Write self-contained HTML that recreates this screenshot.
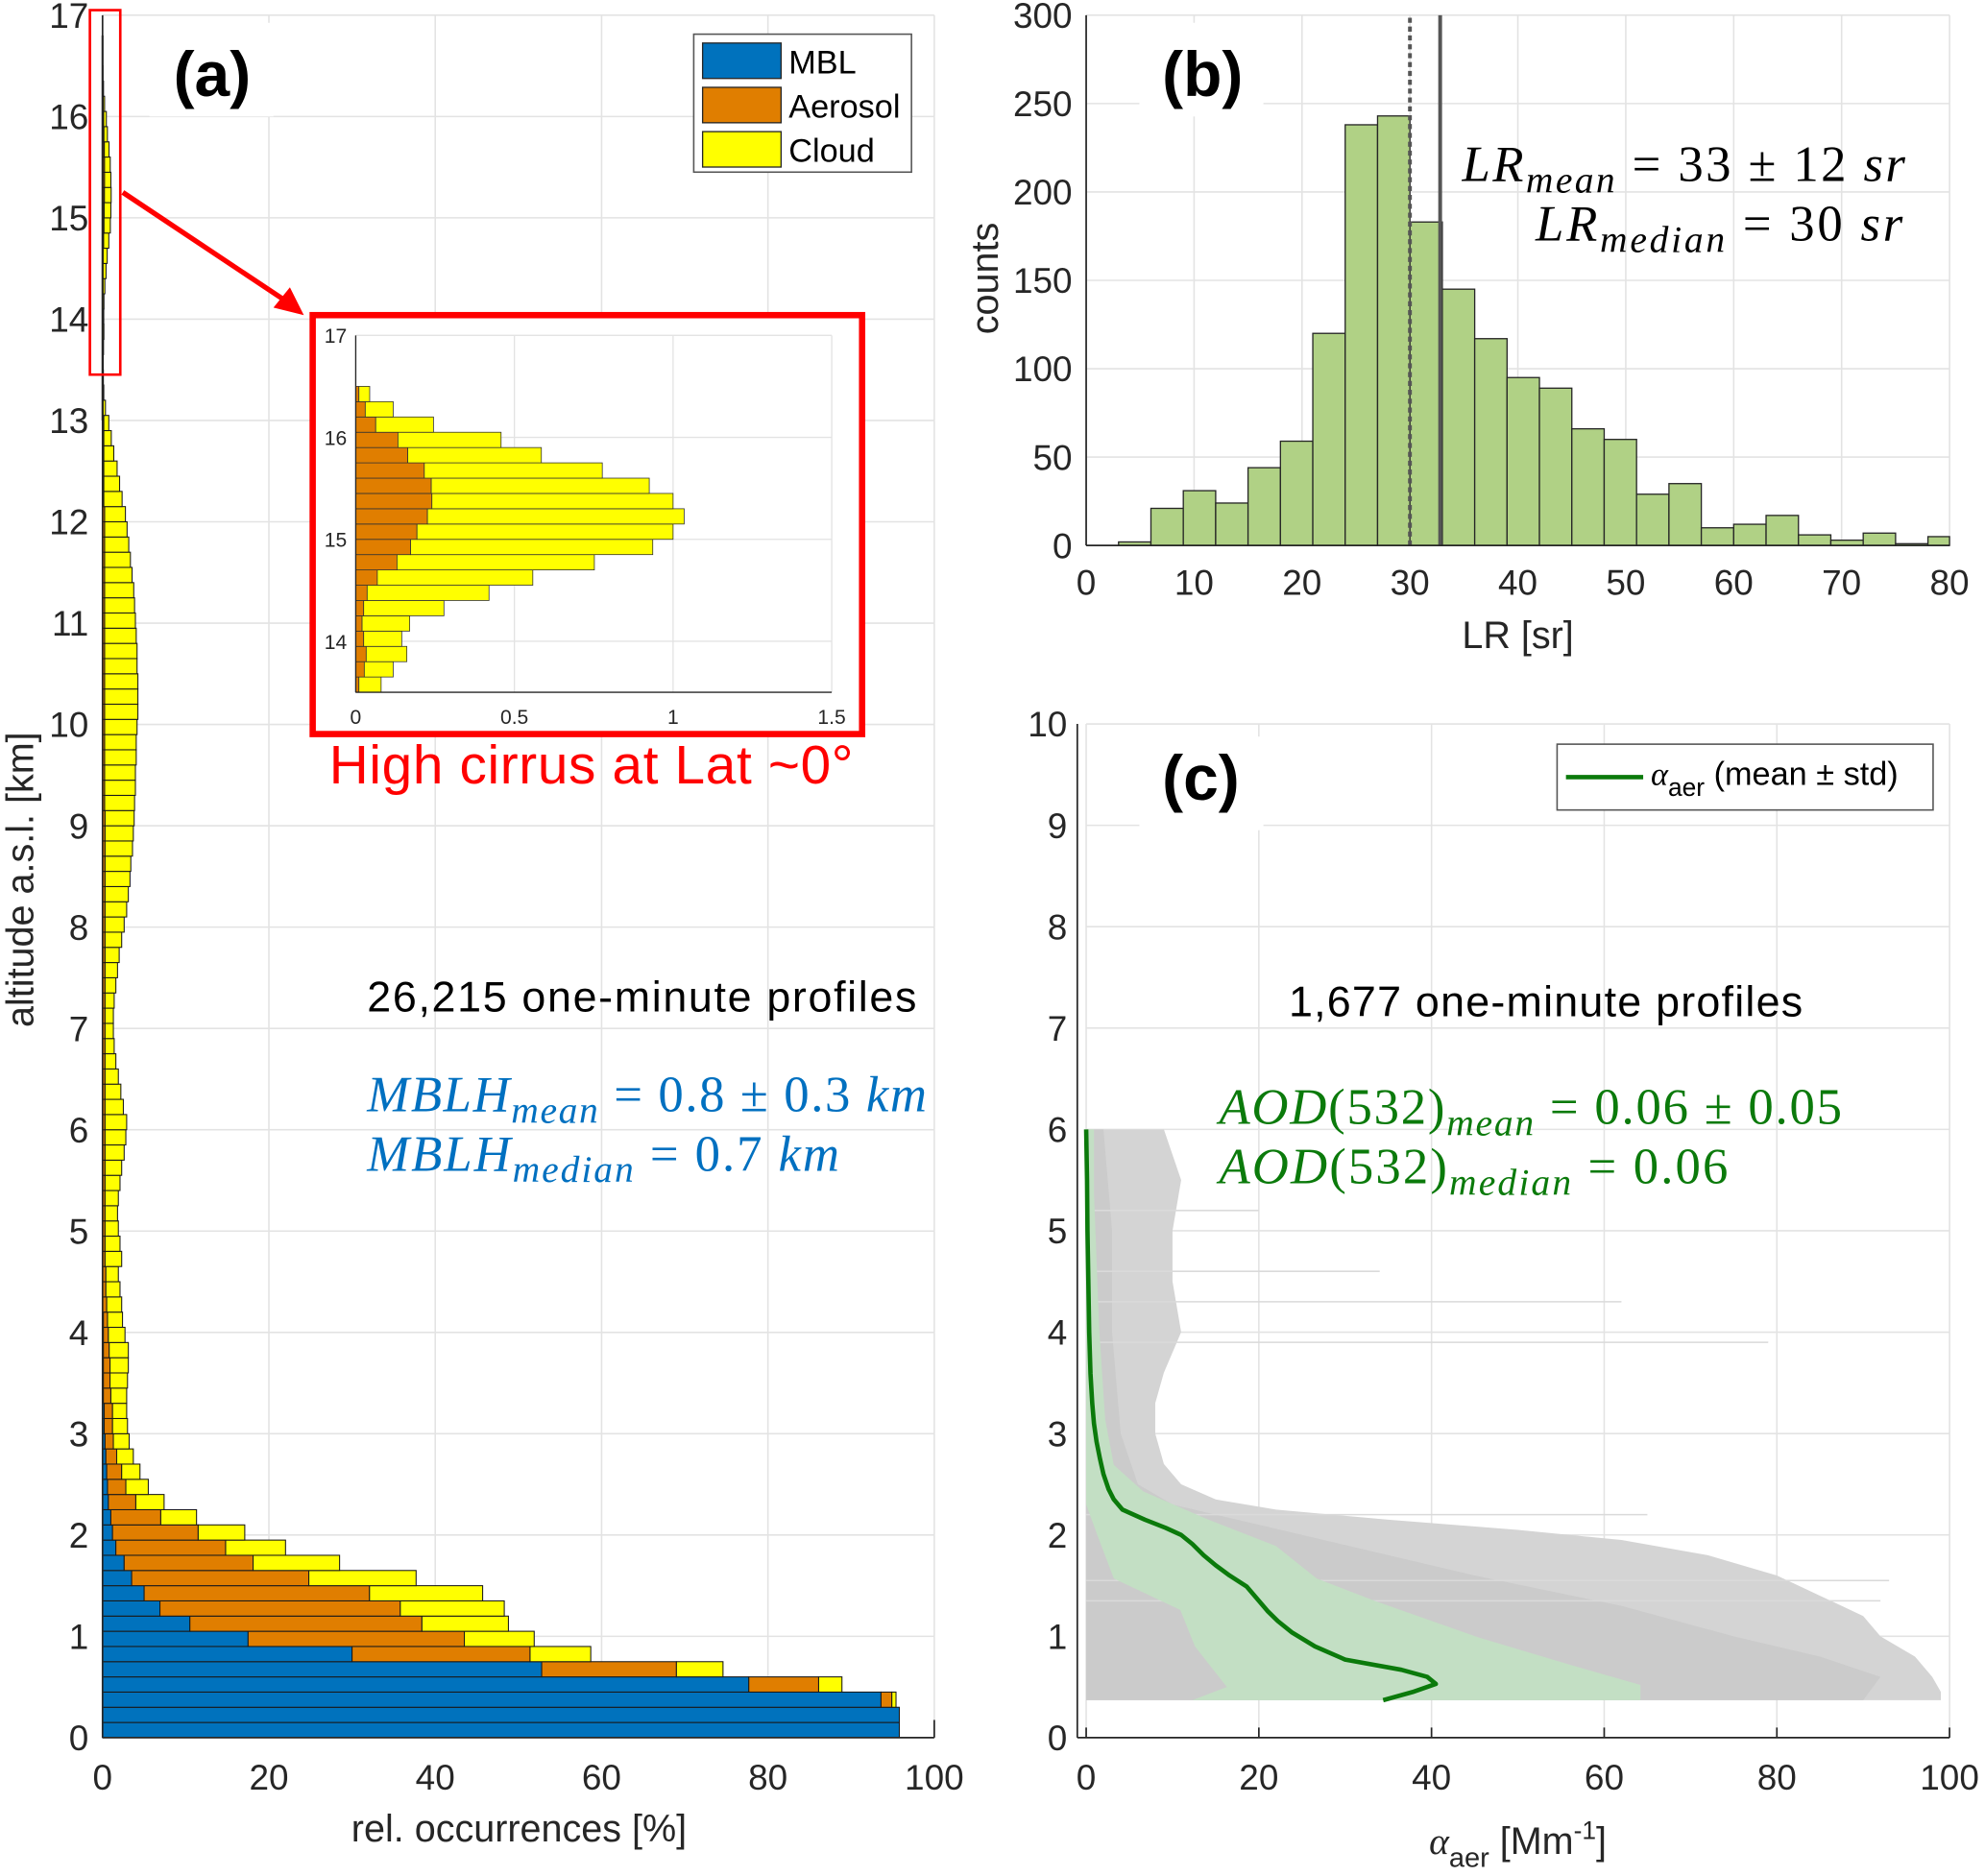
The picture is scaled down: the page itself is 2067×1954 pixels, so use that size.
<!DOCTYPE html>
<html><head><meta charset="utf-8">
<style>
html,body{margin:0;padding:0;background:#fff;}
body{position:relative;width:2067px;height:1954px;overflow:hidden;}
svg{display:block;}
text{font-family:"Liberation Sans",Arial,sans-serif;}
.m{font-family:"Liberation Serif",serif;font-style:italic;}
</style></head>
<body>
<svg id="fig" width="2067" height="1954" viewBox="0 0 1568 1482.3" xmlns="http://www.w3.org/2000/svg" fill="#262626">
<g id="pa"></g>
<g id="pb"></g>
<g id="pc"></g>
</svg>
<script>
// ---------- Panel (a) data: 0.15 km bins, stacked segment widths in %
const binKm = 0.15;
const mblSeg = [95.8,95.8,93.6,77.7,52.8,30.0,17.5,10.5,6.9,5.0,3.5,2.6,1.6,1.2,1.0,0.7,0.6,0.5,0.4,0.3,0.2,0.2,0.1,0.1,0.1,0.1,0.1,0.1];
const aerSeg = [0,0,1.3,8.4,16.2,21.4,26.0,27.9,28.9,27.1,21.3,15.5,13.2,10.3,6.0,3.3,2.2,1.8,1.3,1.0,1.0,1.0,0.9,0.8,0.8,0.7,0.6,0.5,0.5,0.4,0.4,
0.3,0.3,0.3,0.3,0.3,0.3,0.3,0.3,0.3,0.3,0.3,0.3,0.3,0.3,0.3,0.3,0.3,0.3,0.3,0.3,0.3,0.3,0.3,0.3,0.3,0.3,0.3,0.3,0.3,0.3,
0.25,0.25,0.25,0.25,0.25,0.25,0.25,0.25,0.25,0.25,0.25,0.25,0.25,0.25,0.25,0.25,0.25,0.25,0.25,0.25,
0.15,0.15,0.15,0.15,0.15,0.15,0.05,0.05,0.05,
0.01,0.027,0.033,0.025,0.02,0.025,0.036,0.068,0.13,0.173,0.193,0.226,0.24,0.238,0.216,0.164,0.133,0.063,0.03,0.01];
const cldSeg = [0,0,0.5,2.8,5.6,7.3,8.4,10.4,12.5,13.6,12.9,10.4,7.2,5.6,4.3,3.4,2.7,2.2,2.0,1.9,1.8,1.7,1.9,2.1,2.2,2.3,2.0,1.8,1.8,1.7,1.5,
2.0,1.8,1.6,1.5,1.6,1.8,2.0,2.3,2.5,2.6,2.2,1.9,1.6,1.3,1.1,1.0,1.0,1.1,1.3,1.5,1.7,2.0,2.3,2.6,2.8,3.0,3.1,3.3,3.4,3.5,
3.6,3.7,3.7,3.8,3.8,3.9,4.0,4.0,4.0,3.9,3.9,3.8,3.7,3.6,3.5,3.3,3.1,2.9,2.7,2.5,2.2,1.9,1.6,1.2,0.9,0.6,0.3,0.1,0.05,
0.07,0.091,0.128,0.12,0.15,0.253,0.384,0.49,0.622,0.763,0.807,0.809,0.76,0.687,0.561,0.421,0.325,0.182,0.088,0.034];
const aXTicks = [0,20,40,60,80,100];
const aYTicks = [0,1,2,3,4,5,6,7,8,9,10,11,12,13,14,15,16,17];
const insetXTicks = [0,0.5,1,1.5];
const insetXLabels = ["0","0.5","1","1.5"];
const insetYTicks = [14,15,16,17];
const legendLabels = ["MBL","Aerosol","Cloud"];

// ---------- Panel (b) data
const lrBinStart = 3, lrBinWidth = 3;
const lrCounts = [2,21,31,24,44,59,120,238,243,183,145,117,95,89,66,60,29,35,10,12,17,6,3,7,1,5];
const bXTicks = [0,10,20,30,40,50,60,70,80];
const bYTicks = [0,50,100,150,200,250,300];
const lrMedian = 30, lrMean = 32.8;

// ---------- Panel (c) data
const meanAlt = [0.37,0.45,0.53,0.6,0.67,0.77,0.9,1.04,1.15,1.25,1.37,1.49,1.6,1.7,1.8,1.91,2.0,2.07,2.15,2.25,2.35,2.45,2.6,2.75,2.92,3.1,3.3,3.59,4.0,4.5,5.0,5.5,6.0];
const meanVal = [34.4,37.8,40.5,39.5,36.5,30.0,26.5,23.8,22.2,21.0,19.8,18.6,16.6,15.0,13.6,12.3,11.0,9.2,6.8,4.2,3.2,2.6,2.0,1.6,1.2,0.9,0.7,0.5,0.35,0.25,0.15,0.1,0.0];
const stdAlt = [0.37,0.52,0.72,0.99,1.35,1.57,1.89,2.16,2.43,2.69,3.14,4.04,5.38,6.0];
const stdHi = [64.2,64.2,56.0,45.4,33.4,26.7,22.0,13.9,6.6,3.2,2.2,1.5,0.9,0.9];
const stdLoAlt = [0.37,0.5,0.9,1.26,1.57,2.02,2.3,6.0];
const stdLo = [12.3,16.3,12.6,10.9,3.2,1.2,0,0];
const envAlt = [0.37,0.45,0.6,0.8,1.0,1.2,1.4,1.6,1.8,1.95,2.05,2.15,2.25,2.35,2.5,2.7,3.0,3.3,3.6,4.0,4.5,5.0,5.5,6.0];
const envVal = [99,99,98,96,92,90,85,80,72,62,50,35,22,15,11,9,8,8,9,11,10,10,11,9];
const denseAlt = [0.37,0.6,0.8,1.0,1.3,1.6,1.9,2.1,2.3,2.5,3.0,4.0,5.0,6.0];
const denseVal = [90,92,85,75,62,45,30,20,10,6,4,3,3,2];
const spikeAlt = [4.3,3.9,1.55,1.35,2.2,4.6,5.2];
const spikeVal = [62,79,93,92,65,34,20];
const cXTicks = [0,20,40,60,80,100];
const cYTicks = [0,1,2,3,4,5,6,7,8,9,10];

const NS = "http://www.w3.org/2000/svg";
function mk(parent, tag, attrs, txt){
  const e = document.createElementNS(NS, tag);
  for (const k in attrs) e.setAttribute(k, attrs[k]);
  if (txt !== undefined) e.textContent = txt;
  parent.appendChild(e);
  return e;
}
const GRID = "#e3e3e3", AX = "#262626";
const C_MBL = "#0072bd", C_AER = "#e07e00", C_CLD = "#ffff00";

// ================= Panel A =================
const pa = document.getElementById('pa');
const ax0 = 81, ax1 = 738, ay0 = 1373, ay1 = 12;
const axX = v => ax0 + (ax1 - ax0) * v / 100;
const axY = v => ay0 - (ay0 - ay1) * v / 17;
for (const t of aXTicks) {
  const l = mk(pa,'line',{x1:axX(t),x2:axX(t),y1:ay0,y2:ay1,stroke:GRID,'stroke-width':1.2});
   
}
for (const t of aYTicks) {
  const l = mk(pa,'line',{x1:ax0,x2:ax1,y1:axY(t),y2:axY(t),stroke:GRID,'stroke-width':1.2});
   
}
const barsA = mk(pa,'g',{});
 
for (let i = 0; i < cldSeg.length; i++) {
  const m = mblSeg[i] || 0, a = aerSeg[i] || 0, c = cldSeg[i] || 0;
  const yt = axY((i+1)*binKm), yb = axY(i*binKm);
  const segs = [[0,m,C_MBL,'mbl'],[m,m+a,C_AER,'aerosol'],[m+a,m+a+c,C_CLD,'cloud']];
  for (const s of segs) {
    if (s[1] - s[0] <= 0) continue;
    const r = mk(barsA,'rect',{x:axX(s[0]),y:yt,width:axX(s[1])-axX(s[0]),height:yb-yt,fill:s[2],stroke:'#1a1a1a','stroke-width':0.8});
     
  }
}
mk(pa,'line',{x1:ax0,x2:ax0,y1:axY(13),y2:axY(16.8),stroke:'#000','stroke-width':1.5});
mk(pa,'line',{x1:ax0,x2:ax0,y1:ay0,y2:ay1,stroke:AX,'stroke-width':1.3});
mk(pa,'line',{x1:ax0,x2:ax1,y1:ay0,y2:ay0,stroke:AX,'stroke-width':1.3});
mk(pa,'line',{x1:ax1,x2:ax1,y1:ay0,y2:ay0-14,stroke:AX,'stroke-width':1.3});
for (const t of aXTicks) {
  const e = mk(pa,'text',{x:axX(t),y:1414,'text-anchor':'middle','font-size':28},String(t));
   
}
for (const t of aYTicks) {
  const e = mk(pa,'text',{x:70,y:axY(t)+10,'text-anchor':'end','font-size':28},String(t));
   
}
mk(pa,'rect',{x:71,y:8,width:24,height:288,fill:'none',stroke:'#ff0000','stroke-width':2});
mk(pa,'line',{x1:97,y1:152,x2:226,y2:238,stroke:'#ff0000','stroke-width':4});
mk(pa,'polygon',{points:'240,249 216,243 229,227',fill:'#ff0000'});
const inset = mk(pa,'g',{});
 
mk(inset,'rect',{x:247,y:249,width:434,height:331,fill:'#fff',stroke:'#ff0000','stroke-width':5});
const ix0 = 281, ix1 = 657, iy0 = 547, iy1 = 265;
const iX = v => ix0 + (ix1-ix0)*v/1.5;
const iY = v => iy0 - (iy0-iy1)*(v-13.5)/3.5;
for (const t of insetXTicks) mk(inset,'line',{x1:iX(t),x2:iX(t),y1:iy0,y2:iy1,stroke:GRID,'stroke-width':1});
for (const t of insetYTicks) mk(inset,'line',{x1:ix0,x2:ix1,y1:iY(t),y2:iY(t),stroke:GRID,'stroke-width':1});
for (let i = 90; i < cldSeg.length; i++) {
  const a = aerSeg[i] || 0, c = cldSeg[i] || 0;
  const yt = iY((i+1)*binKm), yb = iY(i*binKm);
  const r1 = mk(inset,'rect',{x:iX(0),y:yt,width:iX(a)-iX(0),height:yb-yt,fill:C_AER,stroke:'#333','stroke-width':0.6});
   
  const r2 = mk(inset,'rect',{x:iX(a),y:yt,width:iX(a+c)-iX(a),height:yb-yt,fill:C_CLD,stroke:'#333','stroke-width':0.6});
   
}
mk(inset,'line',{x1:ix0,x2:ix0,y1:iy0,y2:iy1,stroke:AX,'stroke-width':1});
mk(inset,'line',{x1:ix0,x2:ix1,y1:iy0,y2:iy0,stroke:AX,'stroke-width':1});
insetXTicks.forEach((t,k)=>mk(inset,'text',{x:iX(t),y:572,'text-anchor':'middle','font-size':16},insetXLabels[k]));
for (const t of insetYTicks) mk(inset,'text',{x:274,y:iY(t)+6,'text-anchor':'end','font-size':16},String(t));
const lg = mk(pa,'g',{});
 
mk(lg,'rect',{x:548,y:27,width:172,height:109,fill:'#fff',stroke:'#555','stroke-width':1.2});
[C_MBL,C_AER,C_CLD].forEach((c,k)=>{
  const sw = mk(lg,'rect',{x:555,y:34+k*35,width:62,height:28,fill:c,stroke:'#262626','stroke-width':1});
   
  const tx = mk(lg,'text',{x:623,y:58+k*35,'font-size':26,fill:'#000'},legendLabels[k]);
   
});
</script>
<script>
// ================= Panel B =================
const pb = document.getElementById('pb');
const bx0 = 858, bx1 = 1540, by0 = 431, by1 = 12;
const bX = v => bx0 + (bx1-bx0)*v/80;
const bY = v => by0 - (by0-by1)*v/300;
for (const t of bXTicks) mk(pb,'line',{x1:bX(t),x2:bX(t),y1:by0,y2:by1,stroke:GRID,'stroke-width':1.2});
for (const t of bYTicks) mk(pb,'line',{x1:bx0,x2:bx1,y1:bY(t),y2:bY(t),stroke:GRID,'stroke-width':1.2});
lrCounts.forEach((c,i)=>{
  const s = lrBinStart + i*lrBinWidth;
  const e = Math.min(s + lrBinWidth, 80);
  const r = mk(pb,'rect',{x:bX(s),y:bY(c),width:bX(e)-bX(s),height:bY(0)-bY(c),fill:'#b0d185',stroke:'#262626','stroke-width':1});
  
  
});
const ml = mk(pb,'line',{x1:bX(lrMedian),x2:bX(lrMedian),y1:by0,y2:by1,stroke:'#555','stroke-width':3,'stroke-dasharray':'4,3'});
 
const mn = mk(pb,'line',{x1:bX(lrMean),x2:bX(lrMean),y1:by0,y2:by1,stroke:'#555','stroke-width':3});
 
mk(pb,'line',{x1:bx0,x2:bx0,y1:by0,y2:by1,stroke:AX,'stroke-width':1.3});
mk(pb,'line',{x1:bx0,x2:bx1,y1:by0,y2:by0,stroke:AX,'stroke-width':1.3});
for (const t of bXTicks) {
  const e = mk(pb,'text',{x:bX(t),y:470,'text-anchor':'middle','font-size':28},String(t));
   
}
for (const t of bYTicks) {
  const e = mk(pb,'text',{x:847,y:bY(t)+10,'text-anchor':'end','font-size':28},String(t));
   
}

// ================= Panel C =================
const pc = document.getElementById('pc');
const cx0 = 858, cx1 = 1540, cy0 = 1373, cy1 = 572;
const cX = v => cx0 + (cx1-cx0)*v/100;
const cY = v => cy0 - (cy0-cy1)*v/10;
for (const t of cXTicks) mk(pc,'line',{x1:cX(t),x2:cX(t),y1:cy0,y2:cy1,stroke:GRID,'stroke-width':1.2});
for (const t of cYTicks) mk(pc,'line',{x1:cx0,x2:cx1,y1:cY(t),y2:cY(t),stroke:GRID,'stroke-width':1.2});
function envPoly(alts, vals, fill, name){
  let pts = cX(0)+','+cY(alts[0]);
  alts.forEach((a,i)=>{ pts += ' '+cX(vals[i])+','+cY(a); });
  pts += ' '+cX(0)+','+cY(alts[alts.length-1]);
  const p = mk(pc,'polygon',{points:pts,fill:fill});
   
}
envPoly(envAlt, envVal, '#d4d4d4', 'individual-profiles-sparse');
envPoly(denseAlt, denseVal, '#cbcbcb', 'individual-profiles-dense');
spikeAlt.forEach((a,i)=>{
  const s = mk(pc,'line',{x1:cX(0),x2:cX(spikeVal[i]),y1:cY(a),y2:cY(a),stroke:'#dadada','stroke-width':1.2});
   
});
let bandPts = [];
stdAlt.forEach((a,i)=>bandPts.push(cX(stdHi[i])+','+cY(a)));
for (let i = stdLoAlt.length-1; i >= 0; i--) bandPts.push(cX(stdLo[i])+','+cY(stdLoAlt[i]));
const band = mk(pc,'polygon',{points:bandPts.join(' '),fill:'#c3dfc4'});
 
const mline = mk(pc,'polyline',{points:meanAlt.map((a,i)=>cX(meanVal[i])+','+cY(a)).join(' '),fill:'none',stroke:'#0b7a0b','stroke-width':3.5,'stroke-linejoin':'round'});
 
mk(pc,'line',{x1:cx0-7,x2:cx0-7,y1:cy0,y2:cy1,stroke:AX,'stroke-width':1.3});
mk(pc,'line',{x1:cx0-7,x2:cx1,y1:cy0,y2:cy0,stroke:AX,'stroke-width':1.3});
for (const t of cXTicks) {
  mk(pc,'line',{x1:cX(t),x2:cX(t),y1:cy0,y2:cy0-8,stroke:AX,'stroke-width':1.3});
  const e = mk(pc,'text',{x:cX(t),y:1414,'text-anchor':'middle','font-size':28},String(t));
   
}
for (const t of cYTicks) {
  const e = mk(pc,'text',{x:843,y:cY(t)+10,'text-anchor':'end','font-size':28},String(t));
   
}
</script>
<svg style="position:absolute;left:0;top:0" width="2067" height="1954" viewBox="0 0 1568 1482.3" xmlns="http://www.w3.org/2000/svg" fill="#262626">
  <rect x="118" y="18" width="98" height="74" fill="#fff"/>
  <text x="137" y="76" font-size="50" font-weight="bold" fill="#000">(a)</text>
  <text x="0" y="0" font-size="30" text-anchor="middle" transform="translate(26,695) rotate(-90)">altitude a.s.l. [km]</text>
  <text x="410" y="1455" font-size="30" text-anchor="middle">rel. occurrences [%]</text>
  <text x="260" y="619" font-size="43" fill="#ff0000" textLength="414">High cirrus at Lat ~0°</text>
  <text x="290" y="799" font-size="34" fill="#000" textLength="434">26,215  one-minute profiles</text>
  <text x="290" y="878" font-size="40" fill="#0070c0" class="m" textLength="442">MBLH<tspan font-size="30" dy="9">mean</tspan><tspan dy="-9" font-style="normal">  =  0.8 ± 0.3 </tspan>km</text>
  <text x="290" y="925" font-size="40" fill="#0070c0" class="m" textLength="373">MBLH<tspan font-size="30" dy="9">median</tspan><tspan dy="-9" font-style="normal">  =  0.7 </tspan>km</text>
  <rect x="900" y="18" width="98" height="74" fill="#fff"/>
  <text x="918" y="76" font-size="50" font-weight="bold" fill="#000">(b)</text>
  <text x="0" y="0" font-size="30" text-anchor="middle" transform="translate(788,220) rotate(-90)">counts</text>
  <text x="1199" y="512" font-size="30" text-anchor="middle">LR [sr]</text>
  <text x="1155" y="143" font-size="40" fill="#000" class="m" textLength="350">LR<tspan font-size="30" dy="9">mean</tspan><tspan dy="-9" font-style="normal">  =  33 ± 12 </tspan>sr</text>
  <text x="1213" y="190" font-size="40" fill="#000" class="m" textLength="290">LR<tspan font-size="30" dy="9">median</tspan><tspan dy="-9" font-style="normal">  =  30 </tspan>sr</text>
  <rect x="900" y="582" width="98" height="74" fill="#fff"/>
  <text x="918" y="632" font-size="50" font-weight="bold" fill="#000">(c)</text>
  <text x="1018" y="803" font-size="34" fill="#000" textLength="406">1,677 one-minute profiles</text>
  <text x="963" y="888" font-size="40" fill="#0b7a0b" class="m" textLength="492">AOD<tspan font-style="normal">(532)</tspan><tspan font-size="30" dy="9">mean</tspan><tspan dy="-9" font-style="normal">  =  0.06 ± 0.05</tspan></text>
  <text x="963" y="935" font-size="40" fill="#0b7a0b" class="m" textLength="402">AOD<tspan font-style="normal">(532)</tspan><tspan font-size="30" dy="9">median</tspan><tspan dy="-9" font-style="normal">  =  0.06</tspan></text>
  <g>
    <rect x="1230" y="588" width="297" height="52" fill="#fff" stroke="#555" stroke-width="1.2"/>
    <line x1="1237" y1="614" x2="1298" y2="614" stroke="#0b7a0b" stroke-width="3.5"/>
    <text x="1304" y="620" font-size="26" fill="#000"><tspan class="m">α</tspan><tspan font-size="20" dy="9">aer</tspan><tspan dy="-9"> (mean ± std)</tspan></text>
  </g>
  <text x="1199" y="1465" font-size="30" text-anchor="middle"><tspan class="m">α</tspan><tspan font-size="22" dy="10">aer</tspan><tspan dy="-10"> [Mm</tspan><tspan font-size="20" dy="-12">-1</tspan><tspan dy="12">]</tspan></text>
</svg>
</body></html>
